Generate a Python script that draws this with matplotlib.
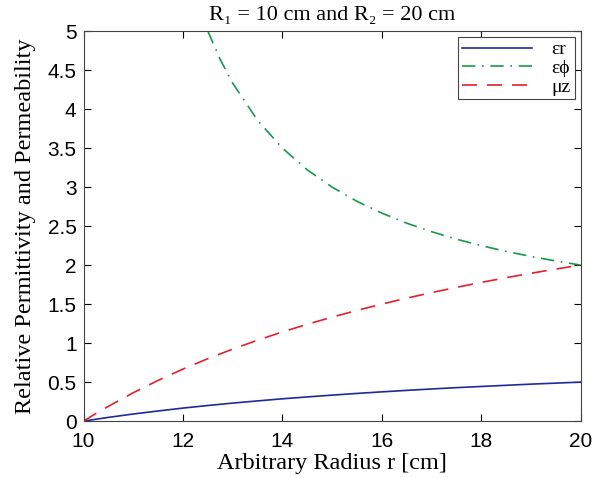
import matplotlib.pyplot as plt

# radius samples [cm]
r = [10.0, 10.25, 10.5, 11.0, 11.5, 12.0, 12.5, 13.0, 13.5, 14.0, 14.5, 15.0,
     15.5, 16.0, 16.5, 17.0, 17.5, 18.0, 18.5, 19.0, 19.5, 20.0]
eps_r = [0.0, 0.024, 0.048, 0.091, 0.130, 0.167, 0.200, 0.231, 0.259, 0.286, 0.310, 0.333,
         0.355, 0.375, 0.394, 0.412, 0.429, 0.444, 0.459, 0.474, 0.487, 0.5]
mu_z = [0.0, 0.098, 0.190, 0.364, 0.522, 0.667, 0.800, 0.923, 1.037, 1.143, 1.241, 1.333,
        1.419, 1.500, 1.576, 1.647, 1.714, 1.778, 1.838, 1.895, 1.949, 2.0]
# eps_phi only visible from r = 12.5 on
r_phi = [12.5, 12.75, 13.0, 13.5, 14.0, 14.5, 15.0, 15.5, 16.0, 16.5, 17.0, 17.5,
         18.0, 18.5, 19.0, 19.5, 20.0]
eps_phi = [5.0, 4.636, 4.333, 3.857, 3.5, 3.222, 3.0, 2.818, 2.667, 2.538, 2.429, 2.333,
           2.25, 2.176, 2.111, 2.053, 2.0]

serif = ['Liberation Serif', 'DejaVu Serif']
sans = ['Liberation Sans', 'DejaVu Sans']

fig = plt.figure(figsize=(6.01, 4.78), dpi=100)
ax = fig.add_axes([0.139, 0.119, 0.827, 0.816])

ax.plot(r, eps_r, c='#1f2a99', lw=1.2, label='\u03b5r')
ax.plot(r_phi, eps_phi, c='#16994a', lw=1.2, linestyle='-.', dashes=(8, 4, 1, 4), label='\u03b5\u03d5')
ax.plot(r, mu_z, c='#e3202b', lw=1.2, linestyle='--', dashes=(9, 6), label='\u03bcz')

ax.set_xlim(10, 20)
ax.set_ylim(0, 5)
ax.set_xticks([10, 12, 14, 16, 18, 20])
ax.set_yticks([0, 0.5, 1, 1.5, 2, 2.5, 3, 3.5, 4, 4.5, 5])
ax.set_yticklabels(['0', '0.5', '1', '1.5', '2', '2.5', '3', '3.5', '4', '4.5', '5'])
ax.tick_params(direction='in', top=True, right=True, labelsize=15, length=5)
ax.tick_params(axis='x', pad=8)
ax.tick_params(axis='y', pad=5)
for lab in ax.get_xticklabels() + ax.get_yticklabels():
    lab.set_family(sans)
for s in ax.spines.values():
    s.set_linewidth(0.8)
    s.set_color('#444444')

ax.set_xlabel('Arbitrary Radius r [cm]', family=serif, size=17.5, labelpad=1)
ax.set_ylabel('Relative Permittivity and Permeability', family=serif, size=17.5, labelpad=8)
ax.set_title('R\u2081 = 10 cm and R\u2082 = 20 cm', family=serif, size=16, pad=8)

leg = ax.legend(loc='upper right', bbox_to_anchor=(1.0, 1.0),
                prop={'family': serif, 'size': 14}, fancybox=False,
                edgecolor='#444444', framealpha=1, handlelength=3.6, borderpad=0.2,
                labelspacing=0.05, borderaxespad=0.3, handletextpad=1.0)
leg.get_frame().set_linewidth(0.8)

fig.savefig('out.png', dpi=100)
